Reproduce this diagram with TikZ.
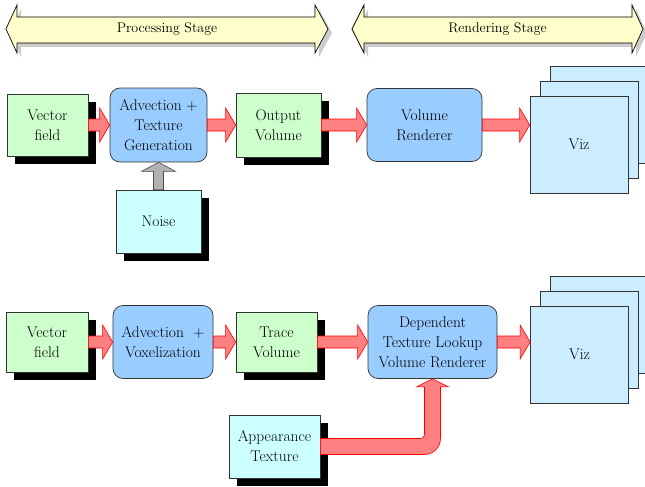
\documentclass[tikz,border=0pt]{standalone}
\usepackage{fontspec}
\usetikzlibrary{calc,shadows}
\definecolor{boxgreen}{HTML}{CCFFCC}
\definecolor{boxblue}{HTML}{99CCFF}
\definecolor{boxcyan}{HTML}{CCFFFF}
\definecolor{vizblue}{HTML}{CCECFF}
\definecolor{bannerfill}{HTML}{FFFFCC}
\definecolor{arrowred}{HTML}{FF8080}
\tikzset{
  box/.style={draw=black!80, line width=0.7pt, align=center, inner sep=0pt,
    font=\rmfamily\fontsize{15.5}{20}\selectfont},
  shadowed/.style={drop shadow={shadow xshift=8pt, shadow yshift=-8pt, fill=black, opacity=1}},
  databox/.style={box, shadowed, fill=boxgreen},
  inbox/.style={box, shadowed, fill=boxcyan},
  procbox/.style={box, fill=boxblue, rounded corners=10pt},
  vizbox/.style={box, fill=vizblue, minimum width=98pt, minimum height=97pt},
  redarrow/.style={fill=arrowred, draw=red, line width=0.6pt},
  grayarrow/.style={fill=gray!60, draw=black!70, line width=0.6pt},
  banner/.style={fill=bannerfill, draw=black, line width=0.7pt},
  bannershadow/.style={fill=gray!40},
  bannertext/.style={font=\rmfamily\fontsize{14}{17}\selectfont},
}
\newcommand{\fatright}[3]{%
  \draw[#1] let \p1=(#2.east), \p2=(#3.west) in
    (\x1,{\y1+6pt}) -- ({\x2-10pt},{\y1+6pt}) -- ({\x2-10pt},{\y1+17pt}) -- (\x2,\y1)
    -- ({\x2-10pt},{\y1-17pt}) -- ({\x2-10pt},{\y1-6pt}) -- (\x1,{\y1-6pt}) -- cycle;}
\newcommand{\fatup}[3]{%
  \draw[#1] let \p1=(#2.north), \p2=(#3.south) in
    ({\x1-5pt},\y1) -- ({\x1-5pt},{\y2-9pt}) -- ({\x1-17pt},{\y2-9pt}) -- (\x1,\y2)
    -- ({\x1+17pt},{\y2-9pt}) -- ({\x1+5pt},{\y2-9pt}) -- ({\x1+5pt},\y1) -- cycle;}
\begin{document}
\begin{tikzpicture}[x=1pt, y=-1pt]
\useasboundingbox (0,0) rectangle (645,487);

% banners
\fill[bannershadow] (10,33) -- (21,9) -- (21,21) -- (319,21) -- (319,9) -- (332,33)
  -- (319,57) -- (319,47) -- (21,47) -- (21,57) -- cycle;
\draw[banner] (6,29) -- (17,5) -- (17,17) -- (315,17) -- (315,5) -- (328,29)
  -- (315,53) -- (315,43) -- (17,43) -- (17,53) -- cycle;
\node[bannertext] (proc) at (167,29) {Processing Stage};
\fill[bannershadow] (356,33) -- (368,9) -- (368,21) -- (636,21) -- (636,9) -- (647,33)
  -- (636,57) -- (636,47) -- (368,47) -- (368,57) -- cycle;
\draw[banner] (352,29) -- (364,5) -- (364,17) -- (632,17) -- (632,5) -- (643,29)
  -- (632,53) -- (632,43) -- (364,43) -- (364,53) -- cycle;
\node[bannertext] (rend) at (497.5,29) {Rendering Stage};

% row 1
\node[databox, minimum width=81pt, minimum height=62pt] (vf1) at (47.5,125) {Vector\\field};
\node[procbox, minimum width=97pt, minimum height=74pt] (adv1) at (158.5,125) {Advection +\\Texture\\Generation};
\node[databox, minimum width=85pt, minimum height=64pt] (out1) at (278.5,125) {Output\\Volume};
\node[inbox, minimum width=85pt, minimum height=63pt] (noise) at (158.5,221.5) {Noise};
\node[procbox, minimum width=115pt, minimum height=73pt] (vr1) at (424.5,125) {Volume\\Renderer};
\node[vizbox] (viz1c) at (599,114.5) {};
\node[vizbox] (viz1b) at (589,129.5) {};
\node[vizbox] (viz1) at (579,144.5) {Viz};

\fatright{redarrow}{vf1}{adv1}
\fatright{redarrow}{adv1}{out1}
\fatright{redarrow}{out1}{vr1}
\fatright{redarrow}{vr1}{viz1}
\fatup{grayarrow}{noise}{adv1}

% row 2
\node[databox, minimum width=82pt, minimum height=60pt] (vf2) at (47,342) {Vector\\field};
\node[procbox, minimum width=100pt, minimum height=73pt] (adv2) at (163,342) {Advection\ \ +\\Voxelization};
\node[databox, minimum width=81pt, minimum height=60pt] (tr2) at (276.5,342) {Trace\\Volume};
\node[inbox, minimum width=91pt, minimum height=63pt] (app) at (274.5,446.5) {Appearance\\Texture};
\node[procbox, minimum width=129pt, minimum height=73pt] (dep) at (432.5,342) {Dependent\\Texture Lookup\\Volume Renderer};
\node[vizbox] (viz2c) at (599.5,324.5) {};
\node[vizbox] (viz2b) at (589.5,339.5) {};
\node[vizbox] (viz2) at (579.5,354.5) {Viz};

\fatright{redarrow}{vf2}{adv2}
\fatright{redarrow}{adv2}{tr2}
\fatright{redarrow}{tr2}{dep}
\fatright{redarrow}{dep}{viz2}

% appearance -> dependent renderer (bent arrow)
\draw[redarrow] let \p1=(app.east), \p2=(dep.south) in
  (\x1,{\y1+8pt}) [rounded corners=4pt] -- ({\x2-8pt},{\y1+8pt}) [sharp corners]
  -- ({\x2-8pt},{\y2-8pt}) -- ({\x2-16pt},{\y2-8pt}) -- (\x2,\y2)
  -- ({\x2+16pt},{\y2-8pt}) -- ({\x2+8pt},{\y2-8pt}) [rounded corners=16pt]
  -- ({\x2+8pt},{\y1-8pt}) [sharp corners] -- (\x1,{\y1-8pt}) -- cycle;
\end{tikzpicture}
\end{document}
